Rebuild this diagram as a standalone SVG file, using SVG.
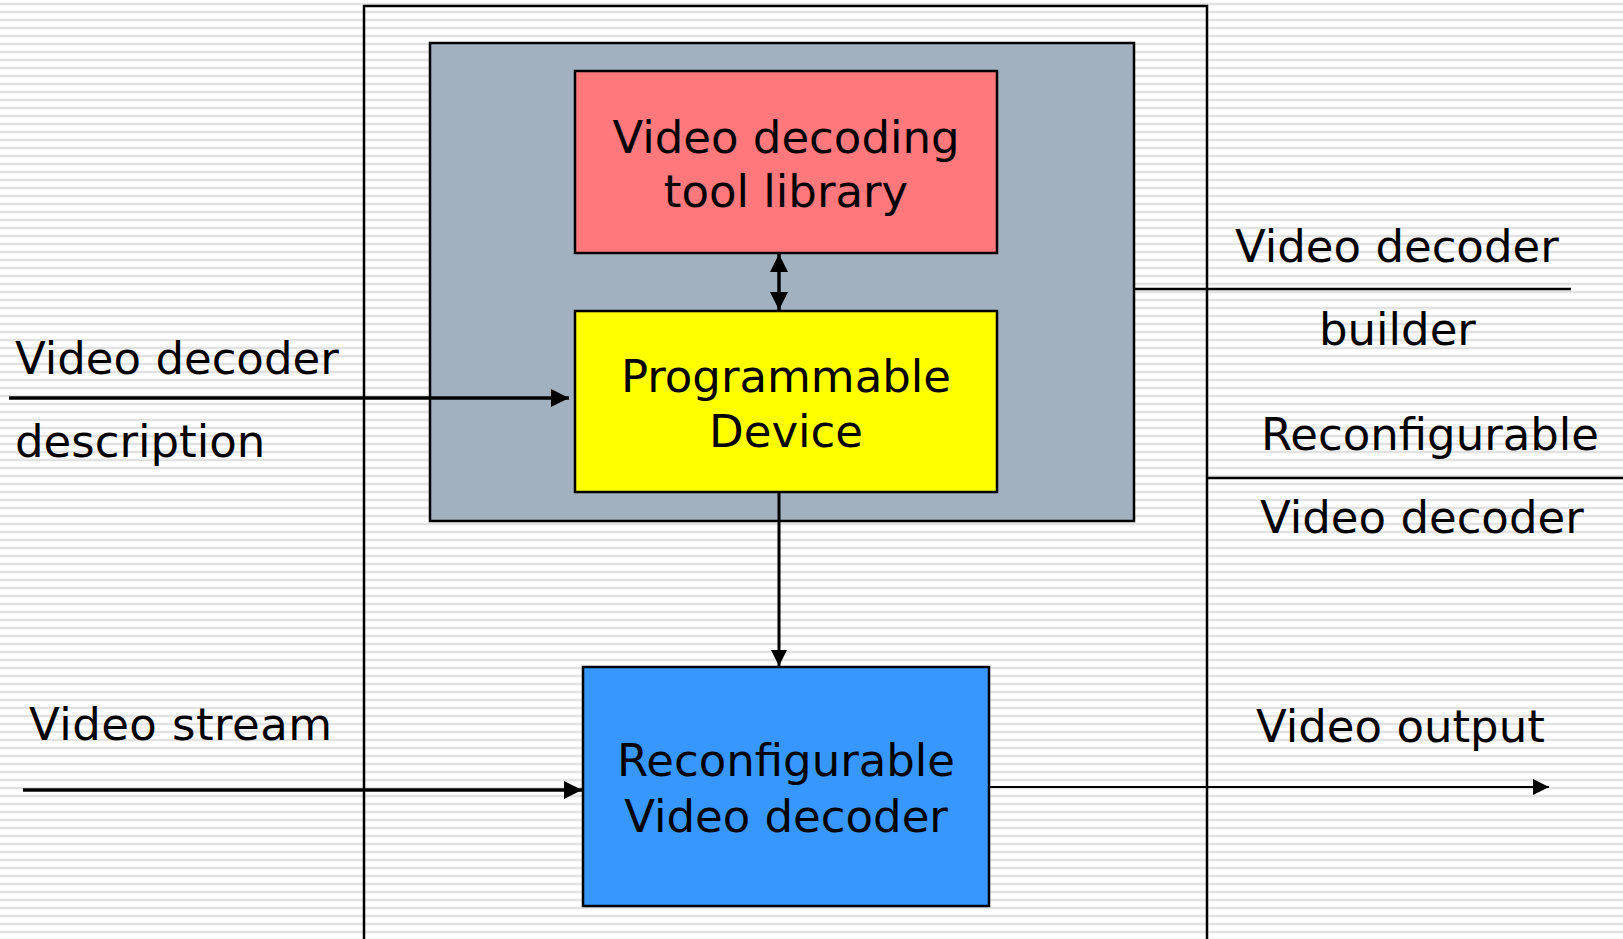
<svg xmlns="http://www.w3.org/2000/svg" width="1623" height="939" viewBox="0 0 1623 939">
  <style>
    .box { stroke: #000; stroke-width: 2.5; }
    .txt { font-family: "DejaVu Sans", Verdana, sans-serif; font-size: 45px; fill: #000; }
    .mid { text-anchor: middle; }
    .wire { stroke: #000; fill: none; }
  </style>
  <defs>
    <!-- ruled-paper background -->
    <pattern id="rules" x="0" y="0" width="8" height="8" patternUnits="userSpaceOnUse">
      <rect x="0" y="0" width="8" height="8" fill="#ffffff"/>
      <rect x="0" y="2.5" width="8" height="3" fill="#efefef"/>
      <rect x="0" y="3" width="8" height="2" fill="#e2e2e2"/>
    </pattern>
    <marker id="head" viewBox="0 0 10 10" refX="10" refY="5" markerWidth="16" markerHeight="16" markerUnits="userSpaceOnUse" orient="auto-start-reverse">
      <path d="M0,0 L10,5 L0,10 z" fill="#000"/>
    </marker>
    <marker id="head-lg" viewBox="0 0 10 10" refX="10" refY="5" markerWidth="18" markerHeight="18" markerUnits="userSpaceOnUse" orient="auto-start-reverse">
      <path d="M0,0 L10,5 L0,10 z" fill="#000"/>
    </marker>
  </defs>

  <rect x="0" y="0" width="1623" height="939" fill="url(#rules)"/>

  <!-- frame of the whole reconfigurable system -->
  <g id="system-frame">
    <path d="M364,945 L364,6 L1207,6 L1207,945" class="wire" stroke-width="2.5"/>
  </g>

  <!-- builder block containing the library and the programmable device -->
  <g id="decoder-builder">
    <rect x="430" y="43" width="704" height="478" fill="#a2b1c0" class="box"/>
  </g>

  <g id="tool-library">
    <rect x="575" y="71" width="422" height="182" fill="#ff787c" class="box"/>
    <text class="txt mid" x="786" y="153">Video decoding</text>
    <text class="txt mid" x="786" y="207">tool library</text>
  </g>

  <g id="programmable-device">
    <rect x="575" y="311" width="422" height="181" fill="#ffff00" class="box"/>
    <text class="txt mid" x="786" y="392">Programmable</text>
    <text class="txt mid" x="786" y="447">Device</text>
  </g>

  <g id="reconfigurable-decoder">
    <rect x="583" y="667" width="406" height="239" fill="#3797fd" class="box"/>
    <text class="txt mid" x="786" y="776">Reconfigurable</text>
    <text class="txt mid" x="786" y="832">Video decoder</text>
  </g>

  <!-- side labels -->
  <g id="labels">
    <text class="txt" x="15" y="374">Video decoder</text>
    <text class="txt" x="15" y="457">description</text>
    <text class="txt" x="29" y="740" textLength="303">Video stream</text>
    <text class="txt" x="1235" y="262">Video decoder</text>
    <text class="txt" x="1319" y="345">builder</text>
    <text class="txt" x="1261" y="450">Reconfigurable</text>
    <text class="txt" x="1260" y="533">Video decoder</text>
    <text class="txt" x="1256" y="742">Video output</text>
  </g>

  <g id="connectors">
    <!-- library <-> device -->
    <line x1="779" y1="254" x2="779" y2="310" class="wire" stroke-width="3.5" marker-start="url(#head-lg)" marker-end="url(#head-lg)"/>
    <!-- device -> decoder -->
    <line x1="779" y1="492" x2="779" y2="666" class="wire" stroke-width="3" marker-end="url(#head)"/>
    <!-- description in -->
    <line x1="9" y1="398" x2="569" y2="398" class="wire" stroke-width="3.5" marker-end="url(#head-lg)"/>
    <!-- stream in -->
    <line x1="23" y1="790" x2="582" y2="790" class="wire" stroke-width="3.5" marker-end="url(#head-lg)"/>
    <!-- output -->
    <line x1="989" y1="787" x2="1549" y2="787" class="wire" stroke-width="2" marker-end="url(#head)"/>
    <!-- label leaders -->
    <line x1="1134" y1="289" x2="1571" y2="289" class="wire" stroke-width="2.5"/>
    <line x1="1207" y1="478" x2="1623" y2="478" class="wire" stroke-width="2.5"/>
  </g>
</svg>
